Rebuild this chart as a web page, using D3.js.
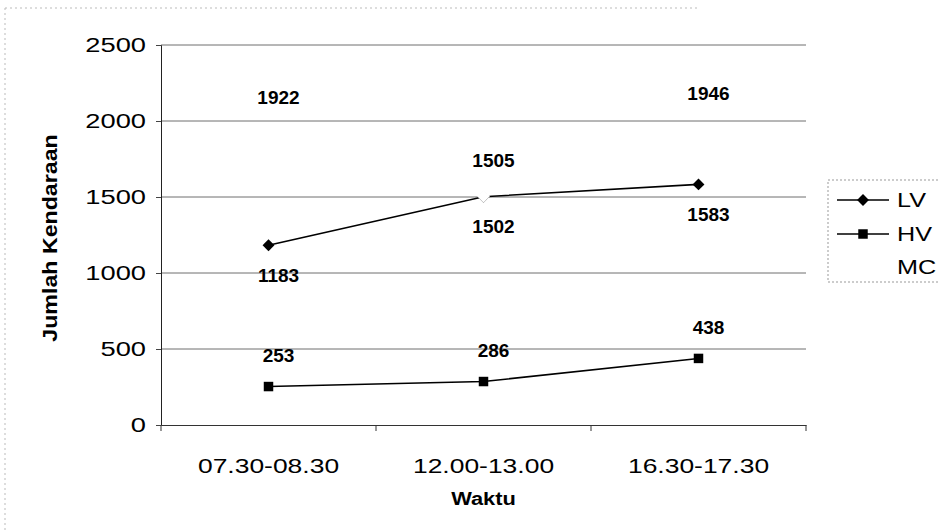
<!DOCTYPE html>
<html>
<head>
<meta charset="utf-8">
<script src="https://cdn.jsdelivr.net/npm/d3@7"></script>
<style>
  body { margin: 0; background: #fff; }
  text { font-family: Arial, "Liberation Sans", sans-serif; fill: #000; }
</style>
</head>
<body>
<div id="chart"></div>
<script>
// data
const categories = ["07.30-08.30", "12.00-13.00", "16.30-17.30"];
const lvValues = [1183, 1502, 1583];
const hvValues = [253, 286, 438];
const mcValues = [1922, 1505, 1946];
const yTicks = [0, 500, 1000, 1500, 2000, 2500];
const seriesNames = ["LV", "HV", "MC"];

const width = 940, height = 530;
const plot = { left: 161, right: 806, top: 45, bottom: 425 };

const svg = d3.select("#chart").append("svg")
    .attr("width", width)
    .attr("height", height);

const x = d3.scaleBand()
    .domain(categories)
    .range([plot.left, plot.right]);

const y = d3.scaleLinear()
    .domain([0, 2500])
    .range([plot.bottom, plot.top]);

// faint outer chart border (left + top)
svg.append("line").attr("x1", 5).attr("x2", 5).attr("y1", 8).attr("y2", 530)
    .attr("stroke", "#bbb").attr("stroke-dasharray", "2,3");
svg.append("line").attr("x1", 5).attr("x2", 700).attr("y1", 8).attr("y2", 8)
    .attr("stroke", "#bbb").attr("stroke-dasharray", "2,3");

// gridlines
svg.append("g").selectAll("line")
    .data(yTicks.filter(d => d > 0))
    .enter().append("line")
    .attr("x1", plot.left).attr("x2", plot.right)
    .attr("y1", d => y(d)).attr("y2", d => y(d))
    .attr("stroke", "#6e6e6e").attr("stroke-width", 1);

// axes
const yAxis = svg.append("g")
    .attr("transform", `translate(${plot.left},0)`)
    .call(d3.axisLeft(y).tickValues(yTicks).tickSize(5).tickFormat(""));
yAxis.select(".domain").attr("stroke", "#222");
yAxis.selectAll(".tick line").attr("stroke", "#444");

const xAxis = svg.append("g")
    .attr("transform", `translate(0,${plot.bottom})`)
    .call(d3.axisBottom(x).tickSize(0).tickFormat(""));
xAxis.select(".domain").attr("stroke", "#333");
// tick marks between categories
svg.append("g").selectAll("line")
    .data(d3.range(categories.length + 1))
    .enter().append("line")
    .attr("x1", i => plot.left + i * x.step())
    .attr("x2", i => plot.left + i * x.step())
    .attr("y1", plot.bottom).attr("y2", plot.bottom + 6)
    .attr("stroke", "#333");

// stretched text helper (the scanned picture is wider than tall)
function stretchText(g, tx, ty, str, size, weight, anchor, sx, rotate) {
    return g.append("g")
        .attr("transform", `translate(${tx},${ty}) rotate(${rotate || 0}) scale(${sx},1)`)
        .append("text")
        .attr("text-anchor", anchor)
        .attr("dy", "0.35em")
        .style("font-size", size + "px")
        .style("font-weight", weight)
        .text(str);
}

// y tick labels
yTicks.forEach(d => stretchText(svg, 146, y(d), d, 21, "normal", "end", 1.3));
// x tick labels
categories.forEach(c => stretchText(svg, x(c) + x.bandwidth() / 2, 466, c, 21, "normal", "middle", 1.26));

// axis titles
stretchText(svg, x(categories[1]) + x.bandwidth() / 2, 498, "Waktu", 19, "bold", "middle", 1.15);
stretchText(svg, 50, 238, "Jumlah Kendaraan", 20, "bold", "middle", 1.16, -90);

// series
const cx = c => x(c) + x.bandwidth() / 2;
const line = d3.line().x((d, i) => cx(categories[i])).y(d => y(d));

const diamond = d3.symbol().type(d3.symbolDiamond2).size(90);
const square = d3.symbol().type(d3.symbolSquare).size(90);
const mcMarker = d3.symbol().type(d3.symbolDiamond2).size(105);

svg.append("path").datum(lvValues).attr("d", line)
    .attr("fill", "none").attr("stroke", "#000").attr("stroke-width", 1.6);
svg.append("g").selectAll("path").data(lvValues).enter().append("path")
    .attr("d", diamond)
    .attr("transform", (d, i) => `translate(${cx(categories[i])},${y(d)})`)
    .attr("fill", "#000");

svg.append("path").datum(hvValues).attr("d", line)
    .attr("fill", "none").attr("stroke", "#000").attr("stroke-width", 1.6);
svg.append("g").selectAll("path").data(hvValues).enter().append("path")
    .attr("d", square)
    .attr("transform", (d, i) => `translate(${cx(categories[i])},${y(d)})`)
    .attr("fill", "#000");

// MC is drawn in white (invisible except where it covers other marks)
svg.append("path").datum(mcValues).attr("d", line)
    .attr("fill", "none").attr("stroke", "#fff").attr("stroke-width", 2);
svg.append("g").selectAll("path").data(mcValues).enter().append("path")
    .attr("d", mcMarker)
    .attr("transform", (d, i) => `translate(${cx(categories[i])},${y(d)})`)
    .attr("fill", "#fff");

// data labels
function labels(values, offset) {
    svg.append("g").selectAll("text").data(values).enter().append("text")
        .attr("x", (d, i) => cx(categories[i]) + 10)
        .attr("y", d => y(d) + offset)
        .attr("dy", "0.35em")
        .attr("text-anchor", "middle")
        .style("font-size", "19px")
        .style("font-weight", "bold")
        .text(d => d);
}
labels(lvValues, 30);
labels(hvValues, -31);
labels(mcValues, -36);

// legend
const legend = svg.append("g");
legend.append("rect")
    .attr("x", 828).attr("y", 180).attr("width", 130).attr("height", 102)
    .attr("fill", "none").attr("stroke", "#999").attr("stroke-dasharray", "2,2");

const legendY = [200, 234, 267];
const legendSym = [diamond, square, null];
seriesNames.forEach((name, i) => {
    if (legendSym[i]) {
        legend.append("line")
            .attr("x1", 837).attr("x2", 889)
            .attr("y1", legendY[i]).attr("y2", legendY[i])
            .attr("stroke", "#000").attr("stroke-width", 1.6);
        legend.append("path").attr("d", legendSym[i])
            .attr("transform", `translate(863,${legendY[i]})`)
            .attr("fill", "#000");
    }
    stretchText(legend, 897, legendY[i], name, 21, "normal", "start", 1.2);
});
</script>
</body>
</html>
